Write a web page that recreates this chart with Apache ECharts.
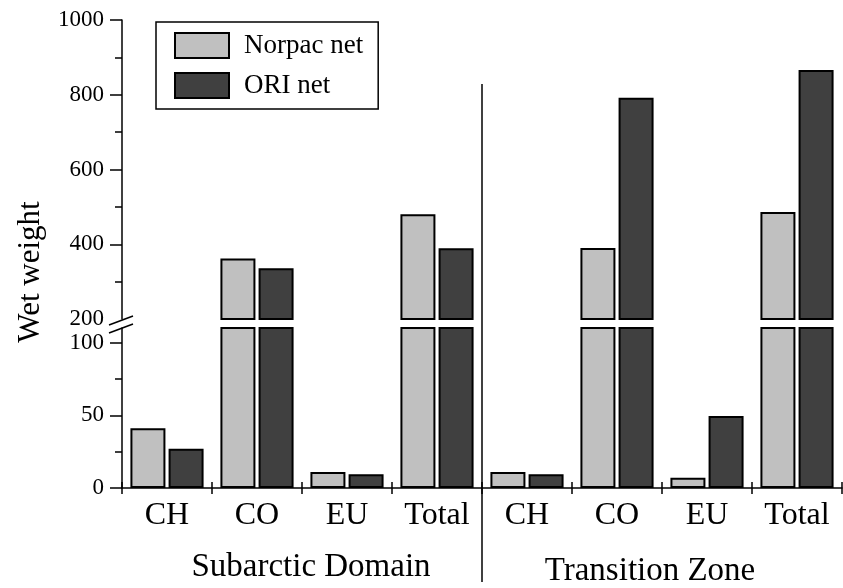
<!DOCTYPE html>
<html>
<head>
<meta charset="utf-8">
<script src="https://cdn.jsdelivr.net/npm/echarts@6/dist/echarts.min.js"></script>
<style>
html,body{margin:0;padding:0;background:#fff;}
#chart{width:843px;height:588px;}
</style>
</head>
<body>
<div id="chart"></div>
<script>
const categories = ['CH', 'CO', 'EU', 'Total', 'CH', 'CO', 'EU', 'Total'];
const groupLabels = ['Subarctic Domain', 'Transition Zone'];
const seriesNames = ['Norpac net', 'ORI net'];
const norpac = [41, 362, 11, 480, 11, 390, 7, 486];
const ori = [27, 336, 9.5, 389, 9.5, 792, 49.5, 866];
const upperLabels = [200, 400, 600, 800, 1000];
const upperMajorTicks = [400, 600, 800, 1000];
const upperMinorTicks = [300, 500, 700, 900];
const lowerLabels = [0, 50, 100];
const lowerMinorTicks = [25, 75];
const UPPER_MIN = 200, UPPER_MAX = 1000;
const LOWER_MIN = 0, LOWER_MAX = 110;

const FONT = "'Liberation Serif', 'Times New Roman', serif";
const chart = echarts.init(document.getElementById('chart'), null, {renderer: 'canvas'});

const G = {left: 122, width: 720};
const upperGrid = {left: G.left, width: G.width, top: 20, height: 299};
const lowerGrid = {left: G.left, width: G.width, top: 328, height: 160};

const colors = ['#c0c0c0', '#404040'];
const barStyle = (i) => ({color: colors[i], borderColor: '#000', borderWidth: 2});
const upperData = (arr) => arr.map(v => v > UPPER_MIN ? v : '-');
const plain = (v) => String(v);

const blackLine = {show: true, lineStyle: {color: '#000', width: 1.5}};

const option = {
  animation: false,
  backgroundColor: '#fff',
  grid: [upperGrid, lowerGrid],
  legend: {
    data: seriesNames,
    orient: 'vertical',
    left: 156, top: 22,
    padding: [10, 15, 10, 18],
    icon: 'rect',
    itemWidth: 54, itemHeight: 25, itemGap: 13,
    borderColor: '#000', borderWidth: 1.5,
    backgroundColor: '#fff',
    selectedMode: false,
    itemStyle: {borderColor: '#000', borderWidth: 2},
    textStyle: {fontFamily: FONT, fontSize: 27, color: '#000', lineHeight: 25, padding: [0, 0, 0, 10]}
  },
  xAxis: [
    {type: 'category', gridIndex: 0, data: categories, show: false},
    {type: 'category', gridIndex: 1, data: categories,
      axisLine: blackLine,
      axisTick: {show: true, interval: 0, length: 6, lineStyle: {color: '#000', width: 1.5}},
      axisLabel: {interval: 0, margin: 12, color: '#000', fontFamily: FONT, fontSize: 32},
      splitLine: {show: false}},
    {type: 'category', gridIndex: 1, data: categories, position: 'top',
      axisLine: {show: false, onZero: true},
      axisTick: {show: true, interval: 0, length: 6, lineStyle: {color: '#000', width: 1.5}},
      axisLabel: {show: false}, splitLine: {show: false}}
  ],
  yAxis: [
    {type: 'value', gridIndex: 0, min: UPPER_MIN, max: UPPER_MAX, interval: 200,
      axisLine: blackLine,
      axisTick: {show: true, length: 12, customValues: upperMajorTicks, lineStyle: {color: '#000', width: 1.5}},
      axisLabel: {customValues: upperLabels, formatter: plain, margin: 18, color: '#000', fontFamily: FONT, fontSize: 23},
      splitLine: {show: false}},
    {type: 'value', gridIndex: 0, min: UPPER_MIN, max: UPPER_MAX, interval: 200, position: 'left',
      axisLine: {show: false},
      axisTick: {show: true, length: 7, customValues: upperMinorTicks, lineStyle: {color: '#000', width: 1.5}},
      axisLabel: {show: false}, splitLine: {show: false}},
    {type: 'value', gridIndex: 1, min: LOWER_MIN, max: LOWER_MAX, interval: 50,
      axisLine: blackLine,
      axisTick: {show: true, length: 12, customValues: lowerLabels, lineStyle: {color: '#000', width: 1.5}},
      axisLabel: {customValues: lowerLabels, formatter: plain, margin: 18, color: '#000', fontFamily: FONT, fontSize: 23},
      splitLine: {show: false}},
    {type: 'value', gridIndex: 1, min: LOWER_MIN, max: LOWER_MAX, interval: 50, position: 'left',
      axisLine: {show: false},
      axisTick: {show: true, length: 7, customValues: lowerMinorTicks, lineStyle: {color: '#000', width: 1.5}},
      axisLabel: {show: false}, splitLine: {show: false}}
  ],
  series: [
    {name: seriesNames[0], type: 'bar', xAxisIndex: 0, yAxisIndex: 0, data: upperData(norpac),
      barWidth: 35, barGap: '9%', itemStyle: barStyle(0)},
    {name: seriesNames[1], type: 'bar', xAxisIndex: 0, yAxisIndex: 0, data: upperData(ori),
      barWidth: 35, barGap: '9%', itemStyle: barStyle(1)},
    {name: seriesNames[0], type: 'bar', xAxisIndex: 1, yAxisIndex: 2, data: norpac,
      barWidth: 35, barGap: '9%', itemStyle: barStyle(0), clip: true},
    {name: seriesNames[1], type: 'bar', xAxisIndex: 1, yAxisIndex: 2, data: ori,
      barWidth: 35, barGap: '9%', itemStyle: barStyle(1), clip: true}
  ],
  graphic: [
    {type: 'text', x: 31, y: 272, rotation: Math.PI / 2, silent: true,
      style: {text: 'Wet weight', fontFamily: FONT, fontSize: 31, fill: '#000', align: 'center', verticalAlign: 'middle'}},
    {type: 'text', x: 311, y: 567, silent: true,
      style: {text: groupLabels[0], fontFamily: FONT, fontSize: 33, fill: '#000', align: 'center', verticalAlign: 'middle'}},
    {type: 'text', x: 650, y: 571, silent: true,
      style: {text: groupLabels[1], fontFamily: FONT, fontSize: 33, fill: '#000', align: 'center', verticalAlign: 'middle'}},
    {type: 'line', silent: true, shape: {x1: 482, y1: 84, x2: 482, y2: 582},
      style: {stroke: '#000', lineWidth: 1.5}},
    {type: 'line', silent: true, shape: {x1: 109, y1: 325, x2: 133, y2: 316},
      style: {stroke: '#000', lineWidth: 1.5}},
    {type: 'line', silent: true, shape: {x1: 109, y1: 333, x2: 133, y2: 324},
      style: {stroke: '#000', lineWidth: 1.5}}
  ]
};
chart.setOption(option);
</script>
</body>
</html>
